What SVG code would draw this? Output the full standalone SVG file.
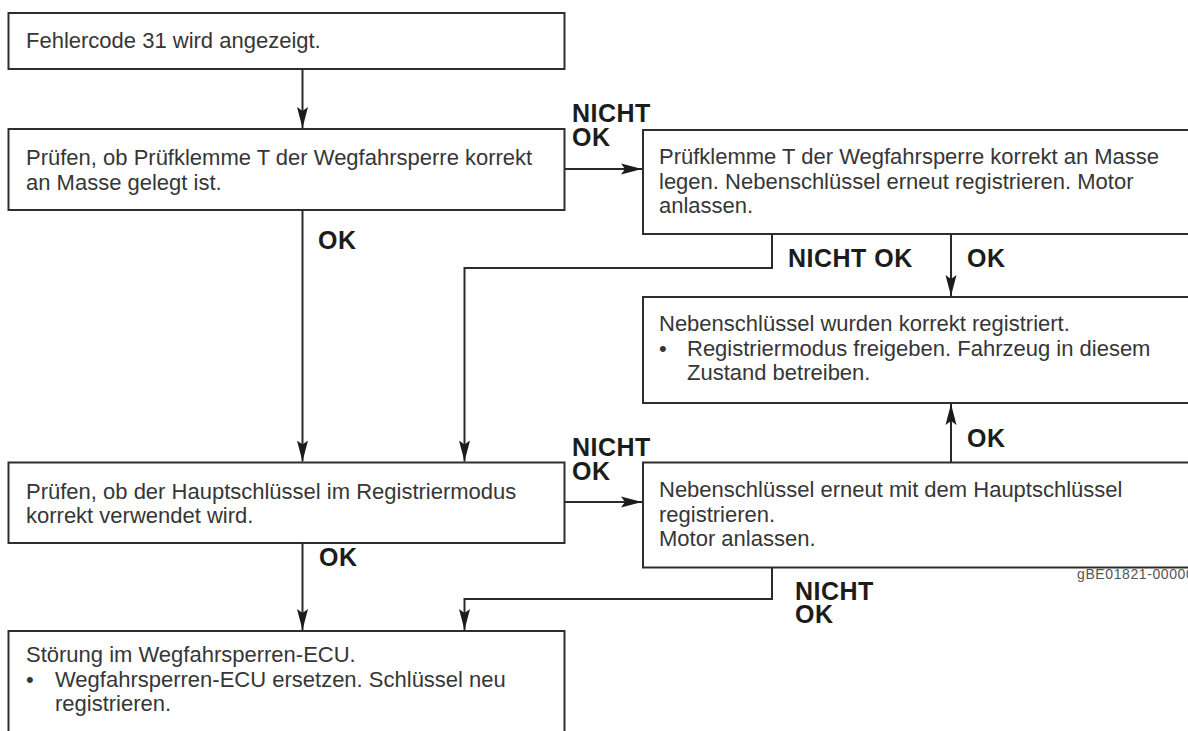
<svg xmlns="http://www.w3.org/2000/svg" width="1188" height="731" viewBox="0 0 1188 731">
  <defs>
    <style>
      .box { fill: #ffffff; stroke: #2e2e2e; stroke-width: 2; }
      .txt { font-family: "Liberation Sans", Arial, Helvetica, sans-serif; font-size: 22px; fill: #363636; }
      .lbl { font-family: "Liberation Sans", Arial, Helvetica, sans-serif; font-size: 25px; font-weight: bold; fill: #1c1c1c; letter-spacing: 0.5px; }
      .ref { font-family: "Liberation Sans", Arial, Helvetica, sans-serif; font-size: 14px; fill: #555555; letter-spacing: 0.6px; }
      .wire { fill: none; stroke: #2a2a2a; stroke-width: 2; }
    </style>
    <marker id="arrow" viewBox="0 0 22 12" refX="21" refY="6" markerWidth="22" markerHeight="12" markerUnits="userSpaceOnUse" orient="auto">
      <path d="M0,0.5 L21,6 L0,11.5 L4,6 Z" fill="#1c1c1c"/>
    </marker>
  </defs>

  <rect width="1188" height="731" fill="#ffffff"/>

  <!-- Process boxes -->
  <g id="start">
    <rect class="box" x="8.5" y="13" width="556" height="56"/>
    <text class="txt" x="26" y="48">Fehlercode 31 wird angezeigt.</text>
  </g>

  <g id="check-terminal">
    <rect class="box" x="8.5" y="129" width="556" height="81"/>
    <text class="txt" x="26" y="165">Prüfen, ob Prüfklemme T der Wegfahrsperre korrekt</text>
    <text class="txt" x="26" y="189.5">an Masse gelegt ist.</text>
  </g>

  <g id="ground-terminal">
    <rect class="box" x="643" y="130" width="560" height="104"/>
    <text class="txt" x="659" y="164">Prüfklemme T der Wegfahrsperre korrekt an Masse</text>
    <text class="txt" x="659" y="188.5">legen. Nebenschlüssel erneut registrieren. Motor</text>
    <text class="txt" x="659" y="213">anlassen.</text>
  </g>

  <g id="registered-ok">
    <rect class="box" x="643" y="297" width="560" height="106"/>
    <text class="txt" x="659" y="331">Nebenschlüssel wurden korrekt registriert.</text>
    <text class="txt" x="659" y="355.5">•</text>
    <text class="txt" x="687" y="355.5">Registriermodus freigeben. Fahrzeug in diesem</text>
    <text class="txt" x="687" y="380">Zustand betreiben.</text>
  </g>

  <g id="check-master-key">
    <rect class="box" x="8.5" y="462.5" width="556" height="80.5"/>
    <text class="txt" x="26" y="498.5">Prüfen, ob der Hauptschlüssel im Registriermodus</text>
    <text class="txt" x="26" y="523">korrekt verwendet wird.</text>
  </g>

  <g id="re-register">
    <rect class="box" x="643" y="462.5" width="560" height="105"/>
    <text class="txt" x="659" y="497">Nebenschlüssel erneut mit dem Hauptschlüssel</text>
    <text class="txt" x="659" y="521.5">registrieren.</text>
    <text class="txt" x="659" y="546">Motor anlassen.</text>
  </g>

  <g id="ecu-fault">
    <rect class="box" x="8.5" y="631" width="556" height="120"/>
    <text class="txt" x="26" y="662">Störung im Wegfahrsperren-ECU.</text>
    <text class="txt" x="26" y="686.5">•</text>
    <text class="txt" x="55" y="686.5">Wegfahrsperren-ECU ersetzen. Schlüssel neu</text>
    <text class="txt" x="55" y="711">registrieren.</text>
  </g>

  <!-- Connectors -->
  <g id="connectors">
    <line class="wire" x1="302.5" y1="69" x2="302.5" y2="128" marker-end="url(#arrow)"/>
    <line class="wire" x1="302.5" y1="210" x2="302.5" y2="461.5" marker-end="url(#arrow)"/>
    <line class="wire" x1="564.5" y1="169" x2="642" y2="169" marker-end="url(#arrow)"/>
    <polyline class="wire" points="772,234 772,268 464.5,268 464.5,461.5" marker-end="url(#arrow)"/>
    <line class="wire" x1="951" y1="234" x2="951" y2="296" marker-end="url(#arrow)"/>
    <line class="wire" x1="951" y1="462.5" x2="951" y2="404" marker-end="url(#arrow)"/>
    <line class="wire" x1="564.5" y1="502" x2="642" y2="502" marker-end="url(#arrow)"/>
    <line class="wire" x1="302.5" y1="543" x2="302.5" y2="630" marker-end="url(#arrow)"/>
    <polyline class="wire" points="772,567.5 772,599 464.5,599 464.5,630" marker-end="url(#arrow)"/>
  </g>

  <!-- Branch labels -->
  <g id="labels">
    <text class="lbl" x="572" y="122">NICHT<tspan x="572" dy="24">OK</tspan></text>
    <text class="lbl" x="318" y="249">OK</text>
    <text class="lbl" x="788" y="267">NICHT OK</text>
    <text class="lbl" x="967" y="267">OK</text>
    <text class="lbl" x="967" y="447">OK</text>
    <text class="lbl" x="572" y="456">NICHT<tspan x="572" dy="24">OK</tspan></text>
    <text class="lbl" x="319" y="566">OK</text>
    <text class="lbl" x="795" y="600">NICHT<tspan x="795" dy="23">OK</tspan></text>
    <text class="ref" x="1077" y="579">gBE01821-00000</text>
  </g>
</svg>
